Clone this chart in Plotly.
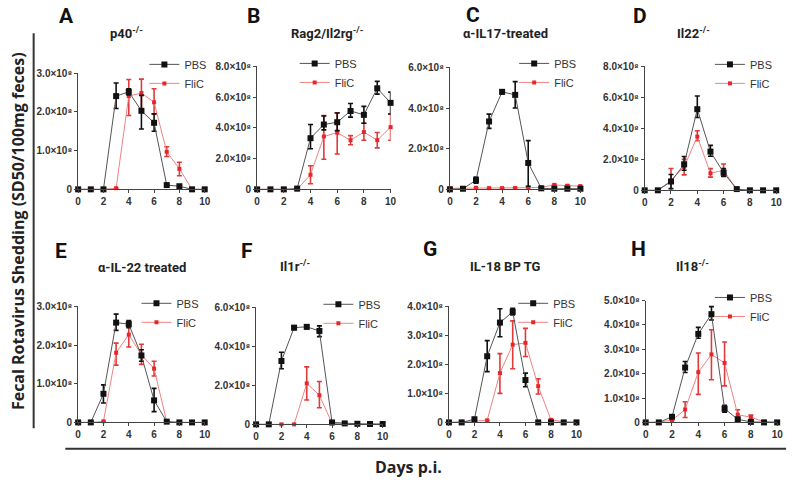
import plotly.graph_objects as go

# ---------------- data (values in units of 1e8 SD50/100mg feces) ----------------
days = [0, 1, 2, 3, 4, 5, 6, 7, 8, 9, 10]

a_pbs = [0, 0, 0, 2.41, 2.52, 2.03, 1.72, 0.11, 0.08, 0, 0]
a_pbs_up = [0, 0, 0, 0.34, 0.08, 0.40, 0.23, 0.02, 0.02, 0, 0]
a_pbs_dn = [0, 0, 0, 0.32, 0.08, 0.47, 0.22, 0.02, 0.02, 0, 0]
a_flic = [0, 0, 0, 0.03, 2.41, 2.49, 2.25, 0.97, 0.53, 0, 0]
a_flic_up = [0, 0, 0, 0, 0.43, 0.36, 0.35, 0.13, 0.17, 0, 0]
a_flic_dn = [0, 0, 0, 0, 0.50, 0.47, 0.30, 0.12, 0.18, 0, 0]

b_pbs = [0, 0, 0, 0.05, 3.33, 4.22, 4.37, 5.10, 4.85, 6.58, 5.63]
b_pbs_up = [0, 0, 0, 0, 0.89, 0.55, 0.60, 0.49, 0.55, 0.45, 0.70]
b_pbs_dn = [0, 0, 0, 0, 0.69, 0.35, 0.55, 0.40, 0.55, 0.38, 0.73]
b_flic = [0, 0, 0, 0, 0.95, 3.44, 3.69, 3.20, 3.73, 3.20, 4.05]
b_flic_up = [0, 0, 0, 0, 0.59, 1.37, 1.30, 0.30, 0.57, 0.50, 0.85]
b_flic_dn = [0, 0, 0, 0, 0.59, 1.48, 1.39, 0.30, 0.53, 0.50, 0.85]

c_pbs = [0, 0.03, 0.45, 3.34, 4.80, 4.65, 1.30, 0.05, 0.03, 0.03, 0.03]
c_pbs_up = [0, 0, 0.15, 0.36, 0.10, 0.65, 1.10, 0, 0, 0, 0]
c_pbs_dn = [0, 0, 0.15, 0.34, 0.10, 0.65, 1.15, 0, 0, 0, 0]
c_flic = [0.05, 0.05, 0.08, 0.06, 0.06, 0.07, 0.08, 0.10, 0.22, 0.18, 0.16]
c_flic_up = [0, 0, 0, 0, 0, 0, 0, 0, 0.03, 0.03, 0.03]
c_flic_dn = [0, 0, 0, 0, 0, 0, 0, 0, 0.03, 0.03, 0.03]

d_pbs = [0, 0, 0.57, 1.68, 5.24, 2.50, 1.14, 0.08, 0, 0, 0]
d_pbs_up = [0, 0, 0.45, 0.50, 0.85, 0.40, 0.26, 0, 0, 0, 0]
d_pbs_dn = [0, 0, 0.45, 0.38, 0.54, 0.30, 0.24, 0, 0, 0, 0]
d_flic = [0, 0, 0.63, 1.52, 3.47, 1.10, 1.30, 0.05, 0, 0, 0]
d_flic_up = [0, 0, 0.78, 0.48, 0.38, 0.30, 0.40, 0, 0, 0, 0]
d_flic_dn = [0, 0, 0.63, 0.52, 0.27, 0.25, 0.30, 0, 0, 0, 0]

e_pbs = [0, 0, 0.74, 2.58, 2.54, 1.73, 0.57, 0.02, 0, 0, 0]
e_pbs_up = [0, 0, 0.23, 0.22, 0.09, 0.15, 0.31, 0, 0, 0, 0]
e_pbs_dn = [0, 0, 0.24, 0.20, 0.09, 0.15, 0.29, 0, 0, 0, 0]
e_flic = [0, 0, 0.03, 1.80, 2.27, 1.75, 1.39, 0.02, 0, 0, 0]
e_flic_up = [0, 0, 0, 0.25, 0.33, 0.27, 0.19, 0, 0, 0, 0]
e_flic_dn = [0, 0, 0, 0.32, 0.32, 0.25, 0.19, 0, 0, 0, 0]

f_pbs = [0, 0, 3.25, 4.96, 5.00, 4.79, 0.10, 0.05, 0.03, 0.02, 0.02]
f_pbs_up = [0, 0, 0.45, 0.09, 0.10, 0.26, 0, 0, 0, 0, 0]
f_pbs_dn = [0, 0, 0.40, 0.11, 0.10, 0.29, 0, 0, 0, 0, 0]
f_flic = [0, 0, 0, 0, 2.10, 1.49, 0.05, 0.02, 0, 0, 0]
f_flic_up = [0, 0, 0, 0, 0.85, 0.71, 0, 0, 0, 0, 0]
f_flic_dn = [0, 0, 0, 0, 0.85, 0.64, 0, 0, 0, 0, 0]

g_pbs = [0, 0, 0.11, 2.28, 3.44, 3.81, 1.46, 0, 0, 0, 0]
g_pbs_up = [0, 0, 0, 0.54, 0.48, 0.12, 0.24, 0, 0, 0, 0]
g_pbs_dn = [0, 0, 0, 0.53, 0.49, 0.11, 0.23, 0, 0, 0, 0]
g_flic = [0, 0.02, 0.05, 0.07, 1.70, 2.68, 2.74, 1.25, 0.09, 0.02, 0.02]
g_flic_up = [0, 0, 0, 0, 0.67, 0.82, 0.50, 0.25, 0.03, 0, 0]
g_flic_dn = [0, 0, 0, 0, 0.70, 0.83, 0.47, 0.27, 0.03, 0, 0]

h_pbs = [0, 0, 0.23, 2.25, 3.63, 4.44, 0.56, 0.13, 0.02, 0, 0]
h_pbs_up = [0, 0, 0.05, 0.25, 0.27, 0.31, 0.14, 0.05, 0, 0, 0]
h_pbs_dn = [0, 0, 0.05, 0.20, 0.18, 0.24, 0.14, 0.05, 0, 0, 0]
h_flic = [0, 0.02, 0.09, 0.53, 2.06, 2.79, 2.44, 0.32, 0.21, 0.03, 0.02]
h_flic_up = [0, 0, 0, 0.32, 0.79, 1.01, 0.86, 0.20, 0.09, 0, 0]
h_flic_dn = [0, 0, 0, 0.33, 0.91, 1.04, 0.94, 0.22, 0.16, 0, 0]

letters = ["A", "B", "C", "D", "E", "F", "G", "H"]
titles = ["p40<sup>-/-</sup>", "Rag2/Il2rg<sup>-/-</sup>", "α-IL17-treated", "Il22<sup>-/-</sup>",
          "α-IL-22 treated", "Il1r<sup>-/-</sup>", "IL-18 BP TG", "Il18<sup>-/-</sup>"]
y_ticks = [[0, 1, 2, 3], [0, 2, 4, 6, 8], [0, 2, 4, 6], [0, 2, 4, 6, 8],
           [0, 1, 2, 3], [0, 2, 4, 6], [0, 1, 2, 3, 4], [0, 1, 2, 3, 4, 5]]
x_ticks = [0, 2, 4, 6, 8, 10]
series_names = ["PBS", "FliC"]

pbs_sets = [(a_pbs, a_pbs_up, a_pbs_dn), (b_pbs, b_pbs_up, b_pbs_dn), (c_pbs, c_pbs_up, c_pbs_dn),
            (d_pbs, d_pbs_up, d_pbs_dn), (e_pbs, e_pbs_up, e_pbs_dn), (f_pbs, f_pbs_up, f_pbs_dn),
            (g_pbs, g_pbs_up, g_pbs_dn), (h_pbs, h_pbs_up, h_pbs_dn)]
flic_sets = [(a_flic, a_flic_up, a_flic_dn), (b_flic, b_flic_up, b_flic_dn), (c_flic, c_flic_up, c_flic_dn),
             (d_flic, d_flic_up, d_flic_dn), (e_flic, e_flic_up, e_flic_dn), (f_flic, f_flic_up, f_flic_dn),
             (g_flic, g_flic_up, g_flic_dn), (h_flic, h_flic_up, h_flic_dn)]

# ---------------- layout geometry (pixels) ----------------
W, H = 800, 484
def fx(px):
    return px / W
def fy(py):
    return 1 - py / H

# x0, x1, y_bottom, y_top for each plot area
boxes = [(76, 204, 188, 69), (257, 392, 188, 62), (452, 584, 188, 63), (649, 782, 189, 62),
         (76, 204, 427, 308), (256, 384, 429, 309), (451, 580, 427, 308), (650, 783, 427, 302)]
letter_pos = [(64, 10), (253, 10), (475, 9), (644, 10), (59, 251), (247, 251), (432, 249), (643, 249)]
title_pos = [(125, 28), (328, 28), (508, 28), (698, 28), (141, 268), (295, 267), (508, 267), (697, 267)]
legend_pos = [(183, 63), (335, 62), (557, 62), (755, 63), (175, 308), (359, 309), (556, 308), (755, 302)]

BLACK = "#111111"
RED = "#e8262a"
AX = "#444444"
TICKF = dict(family="Liberation Sans, Arial, sans-serif", size=10, color="#333333", weight="bold")

fig = go.Figure()
annotations = []
layout = {}

for i in range(8):
    n = "" if i == 0 else str(i + 1)
    xa, ya = "x" + n, "y" + n
    lg = "legend" + n
    x0, x1, yb, yt = boxes[i]
    ymax = y_ticks[i][-1]

    fv, fu, fd = flic_sets[i]
    fig.add_trace(go.Scatter(
        x=days, y=fv, mode="lines+markers", name=series_names[1], legend=lg, legendrank=2,
        xaxis=xa, yaxis=ya, cliponaxis=False,
        line=dict(color="#f08282", width=1),
        marker=dict(symbol="square", size=4, color=RED),
        error_y=dict(type="data", symmetric=False, array=fu, arrayminus=fd,
                     color="#e03a3a", thickness=1.6, width=2.5)))
    pv, pu, pd = pbs_sets[i]
    fig.add_trace(go.Scatter(
        x=days, y=pv, mode="lines+markers", name=series_names[0], legend=lg, legendrank=1,
        xaxis=xa, yaxis=ya, cliponaxis=False,
        line=dict(color="#555555", width=1),
        marker=dict(symbol="square", size=6, color=BLACK),
        error_y=dict(type="data", symmetric=False, array=pu, arrayminus=pd,
                     color=BLACK, thickness=1.6, width=2.5)))

    ticktext = ["0" if t == 0 else "%.1f×10⁸" % t for t in y_ticks[i]]
    layout["xaxis" + n] = dict(domain=[fx(x0), fx(x1)], anchor=ya, range=[0, 10],
                               tickvals=x_ticks, ticktext=[str(t) for t in x_ticks],
                               showline=True, linecolor=AX, linewidth=1, ticks="outside",
                               ticklen=3, tickcolor=AX, showgrid=False, zeroline=False,
                               tickfont=TICKF)
    layout["yaxis" + n] = dict(domain=[fy(yb), fy(yt)], anchor=xa, range=[0, ymax],
                               tickvals=y_ticks[i], ticktext=ticktext,
                               showline=True, linecolor=AX, linewidth=1, ticks="outside",
                               ticklen=3, tickcolor=AX, showgrid=False, zeroline=False,
                               tickfont=TICKF)
    lx, ly = legend_pos[i]
    layout[lg] = dict(x=fx(lx - 40), y=fy(ly - 18), xanchor="left", yanchor="top",
                      bgcolor="rgba(0,0,0,0)", borderwidth=0, itemwidth=30, tracegroupgap=0,
                      font=dict(family="Liberation Sans, Arial, sans-serif", size=11, color="#333333"))

    tx, ty = letter_pos[i]
    annotations.append(dict(text=letters[i], x=fx(tx), y=fy(ty), xref="paper", yref="paper",
                            showarrow=False, xanchor="center", yanchor="middle",
                            font=dict(family="Liberation Sans Narrow, Roboto, sans-serif", size=21,
                                      color="#111111", weight="bold")))
    tx, ty = title_pos[i]
    annotations.append(dict(text=titles[i], x=fx(tx), y=fy(ty), xref="paper", yref="paper",
                            showarrow=False, xanchor="center", yanchor="middle",
                            font=dict(family="Liberation Sans Narrow, Roboto, sans-serif", size=13,
                                      color="#222222", weight="bold")))

annotations.append(dict(text="Fecal Rotavirus Shedding (SD50/100mg feces)", x=fx(15), y=fy(231),
                        xref="paper", yref="paper", showarrow=False, textangle=-90,
                        xanchor="center", yanchor="middle",
                        font=dict(family="Open Sans, sans-serif", size=16, color="#222222", weight="bold")))
annotations.append(dict(text="Days p.i.", x=fx(410), y=fy(473), xref="paper", yref="paper",
                        showarrow=False, xanchor="center", yanchor="middle",
                        font=dict(family="Open Sans, sans-serif", size=16, color="#222222", weight="bold")))

shapes = [
    dict(type="line", xref="paper", yref="paper", x0=fx(31), x1=fx(31), y0=fy(28), y1=fy(433),
         line=dict(color="#333333", width=2)),
    dict(type="line", xref="paper", yref="paper", x0=fx(63), x1=fx(792), y0=fy(454), y1=fy(454),
         line=dict(color="#333333", width=2)),
]

fig.update_layout(width=W, height=H, margin=dict(l=0, r=0, t=0, b=0),
                  paper_bgcolor="white", plot_bgcolor="white",
                  annotations=annotations, shapes=shapes, showlegend=True, **layout)

fig.write_html("out.html", config={"displayModeBar": False},
               post_script="document.body.style.margin='0';document.body.style.overflow='hidden';")
